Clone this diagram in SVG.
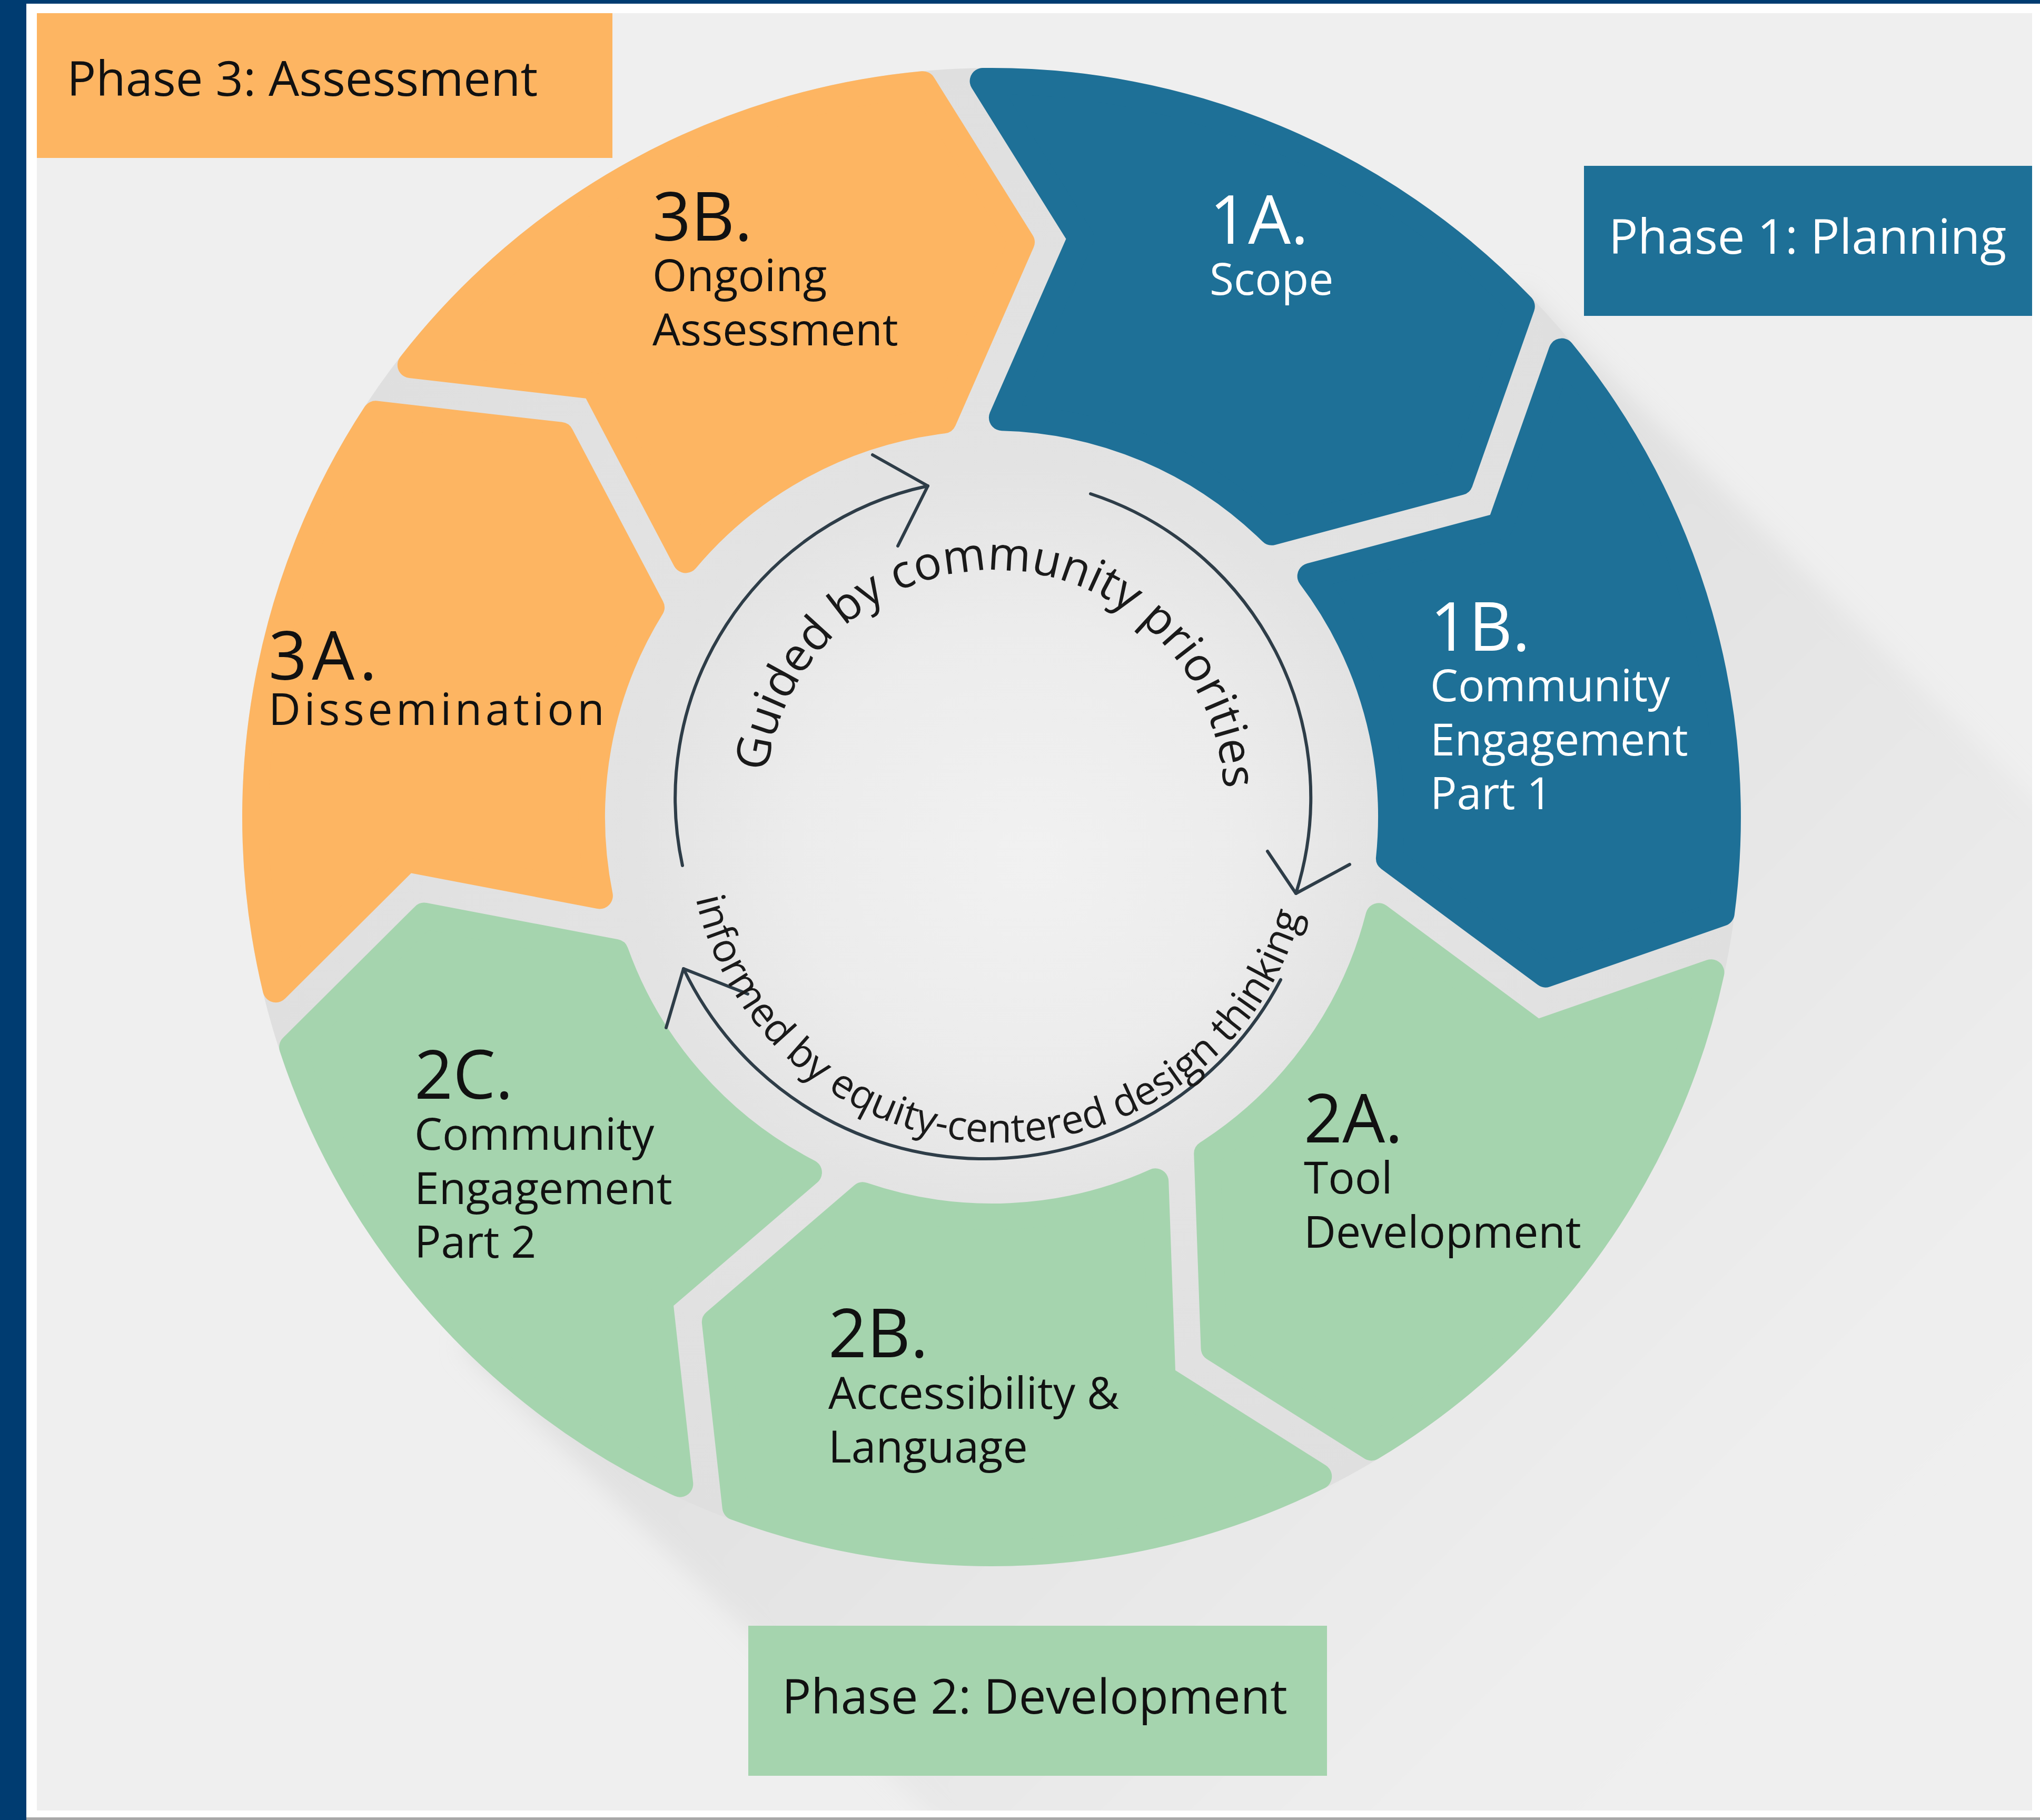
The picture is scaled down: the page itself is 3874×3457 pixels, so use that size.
<svg xmlns="http://www.w3.org/2000/svg" width="3874" height="3457" viewBox="0 0 3874 3457">
<defs>
<style>
.t{font-family:"Open Sans","Noto Sans","DejaVu Sans",sans-serif;}
.title{font-size:128px;}
.lbl{font-size:84px;}
.ph{font-size:92px;}
.dark{fill:#111111;}
.light{fill:#ffffff;}
.arc{fill:none;stroke:#2e3d48;stroke-width:6;stroke-linecap:round;stroke-linejoin:round;}
.seg{stroke-width:50;stroke-linejoin:round;}
.blue{fill:#1e7097;stroke:#1e7097;}
.orange{fill:#fdb562;stroke:#fdb562;}
.green{fill:#a5d4ae;stroke:#a5d4ae;}
</style>
<clipPath id="bgClip"><rect x="70" y="25" width="3789" height="3414"/></clipPath>
<filter id="soft" x="-10%" y="-10%" width="120%" height="120%"><feGaussianBlur stdDeviation="22"/></filter>
<linearGradient id="longShadow" gradientUnits="userSpaceOnUse" x1="1883" y1="1552" x2="3250" y2="2919">
<stop offset="0" stop-color="#dedede"/>
<stop offset="1" stop-color="#eeeeee"/>
</linearGradient>
<radialGradient id="discGrad" gradientUnits="userSpaceOnUse" cx="1883" cy="1552" r="1423" fx="1960" fy="1640">
<stop offset="0" stop-color="#f1f1f1"/>
<stop offset="0.3" stop-color="#ececec"/>
<stop offset="0.5" stop-color="#e3e3e3"/>
<stop offset="1" stop-color="#dfdfdf"/>
</radialGradient>
<path id="topTextPath" d="M1475.1,1651.7 A435,435 0 1 1 2292.0,1681.6"/>
<path id="botTextPath" d="M1318.9,1458.8 A593,593 0 1 0 2486.5,1489.4"/>
</defs>

<g id="frame">
<rect x="0" y="0" width="3874" height="3457" fill="#ffffff"/>
<rect x="0" y="0" width="3874" height="7" fill="#003c71"/>
<rect x="0" y="0" width="50" height="3457" fill="#003c71"/>
<rect x="50" y="3452" width="3824" height="5" fill="#a8a8a8"/>
<rect x="70" y="25" width="3789" height="3414" fill="#efefef"/>
<g clip-path="url(#bgClip)">
<polygon points="2889,546 4389,2046 2377,4058 877,2558" fill="url(#longShadow)" filter="url(#soft)"/>
</g>
<circle cx="1883" cy="1552" r="1423" fill="url(#discGrad)"/>
</g>

<g id="seg-1a">
<path class="seg blue" transform="translate(1883 1552) rotate(-3.6)" d="M71.4,-1396.2 A1398,1398 0 0 1 1065.7,-904.7 L927.5,-579.3 L565.0,-506.8 A759,759 0 0 0 67.5,-756.0 L238.4,-1087.5 Z"/>
<text class="t title light" x="2297" y="463">1A.</text>
<text class="t lbl light" x="2297" y="560">Scope</text>
</g>

<g id="seg-1b">
<path class="seg blue" transform="translate(1883 1552) rotate(47.83)" d="M71.4,-1396.2 A1398,1398 0 0 1 1065.7,-904.7 L927.5,-579.3 L565.0,-506.8 A759,759 0 0 0 67.5,-756.0 L238.4,-1087.5 Z"/>
<text class="t title light" x="2716" y="1236">1B.</text>
<text class="t lbl light" x="2716" y="1332">Community</text>
<text class="t lbl light" x="2716" y="1435">Engagement</text>
<text class="t lbl light" x="2716" y="1537">Part 1</text>
</g>

<g id="seg-2a">
<path class="seg green" transform="translate(1883 1552) rotate(99.26)" d="M71.4,-1396.2 A1398,1398 0 0 1 1065.7,-904.7 L927.5,-579.3 L565.0,-506.8 A759,759 0 0 0 67.5,-756.0 L238.4,-1087.5 Z"/>
<text class="t title dark" x="2476" y="2170">2A.</text>
<text class="t lbl dark" x="2476" y="2267">Tool</text>
<text class="t lbl dark" x="2476" y="2370">Development</text>
</g>

<g id="seg-2b">
<path class="seg green" transform="translate(1883 1552) rotate(150.69)" d="M71.4,-1396.2 A1398,1398 0 0 1 1065.7,-904.7 L927.5,-579.3 L565.0,-506.8 A759,759 0 0 0 67.5,-756.0 L238.4,-1087.5 Z"/>
<text class="t title dark" x="1573" y="2578">2B.</text>
<text class="t lbl dark" x="1573" y="2676">Accessibility &amp;</text>
<text class="t lbl dark" x="1573" y="2778">Language</text>
</g>

<g id="seg-2c">
<path class="seg green" transform="translate(1883 1552) rotate(202.11)" d="M71.4,-1396.2 A1398,1398 0 0 1 1065.7,-904.7 L927.5,-579.3 L565.0,-506.8 A759,759 0 0 0 67.5,-756.0 L238.4,-1087.5 Z"/>
<text class="t title dark" x="787" y="2087">2C.</text>
<text class="t lbl dark" x="787" y="2184">Community</text>
<text class="t lbl dark" x="787" y="2287">Engagement</text>
<text class="t lbl dark" x="787" y="2389">Part 2</text>
</g>

<g id="seg-3a">
<path class="seg orange" transform="translate(1883 1552) rotate(253.54)" d="M71.4,-1396.2 A1398,1398 0 0 1 1065.7,-904.7 L927.5,-579.3 L565.0,-506.8 A759,759 0 0 0 67.5,-756.0 L238.4,-1087.5 Z"/>
<text class="t title dark" x="510" y="1291" letter-spacing="9">3A.</text>
<text class="t lbl dark" x="510" y="1377" letter-spacing="6.5">Dissemination</text>
</g>

<g id="seg-3b">
<path class="seg orange" transform="translate(1883 1552) rotate(304.97)" d="M71.4,-1396.2 A1398,1398 0 0 1 1065.7,-904.7 L927.5,-579.3 L565.0,-506.8 A759,759 0 0 0 67.5,-756.0 L238.4,-1087.5 Z"/>
<text class="t title dark" x="1239" y="457">3B.</text>
<text class="t lbl dark" x="1239" y="553">Ongoing</text>
<text class="t lbl dark" x="1239" y="656">Assessment</text>
</g>

<g id="connectors">
<path class="arc" d="M1296,1644 A606,606 0 0 1 1762,923"/>
<path class="arc" d="M1657,864 L1762,923 L1705,1037"/>
<path class="arc" d="M2071,938 A606,606 0 0 1 2461,1697"/>
<path class="arc" d="M2407,1617 L2461,1697 L2563,1642"/>
<path class="arc" d="M2432,1861 A634,634 0 0 1 1298,1840"/>
<path class="arc" d="M1420,1888 L1298,1840 L1265,1952"/>
</g>

<g id="center-labels">
<text class="t" font-size="88" fill="#1a1a1a"><textPath href="#topTextPath" startOffset="50%" text-anchor="middle">Guided by community priorities</textPath></text>
<text class="t" font-size="76" fill="#1a1a1a"><textPath href="#botTextPath" startOffset="50%" text-anchor="middle">informed by equity-centered design thinking</textPath></text>
</g>

<g id="phase-3">
<rect x="70" y="25" width="1093" height="275" fill="#fdb562"/>
<text class="t ph dark" x="127" y="182">Phase 3: Assessment</text>
</g>

<g id="phase-1">
<rect x="3008" y="315" width="851" height="285" fill="#1e7097"/>
<text class="t ph light" x="3055" y="482">Phase 1: Planning</text>
</g>

<g id="phase-2">
<rect x="1421" y="3088" width="1099" height="285" fill="#a5d4ae"/>
<text class="t ph dark" x="1485" y="3255">Phase 2: Development</text>
</g>
</svg>
